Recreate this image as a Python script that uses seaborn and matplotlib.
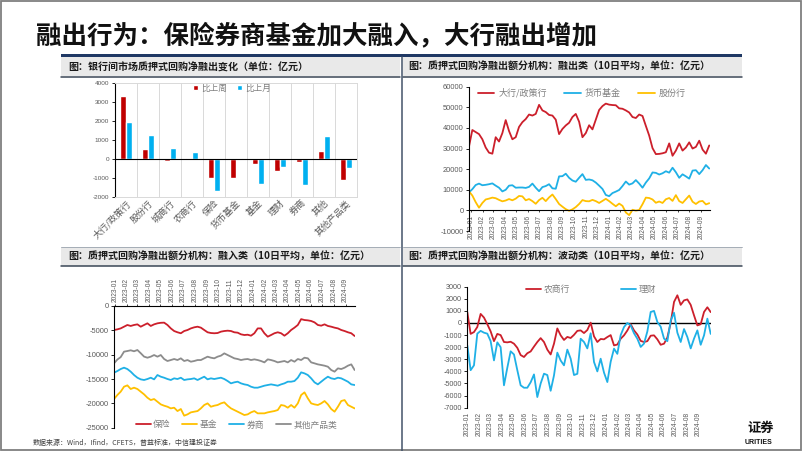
import numpy as np
import pandas as pd
import matplotlib
matplotlib.use("Agg")
import matplotlib.pyplot as plt
from matplotlib.patches import Rectangle
import seaborn as sns

# ---------------- data ----------------
title = "融出行为：保险券商基金加大融入，大行融出增加"
header1 = "图：银行间市场质押式回购净融出变化（单位：亿元）"
header2 = "图：质押式回购净融出额分机构：融出类（10日平均，单位：亿元）"
header3 = "图：质押式回购净融出额分机构：融入类（10日平均，单位：亿元）"
header4 = "图：质押式回购净融出额分机构：波动类（10日平均，单位：亿元）"
source = "数据来源：Wind，Ifind，CFETS，普益标准，中信建投证券"

bar_categories = ["大行/政策行", "股份行", "城商行", "农商行", "保险", "货币基金",
                  "基金", "理财", "券商", "其他", "其他产品类"]
bar_series = ["比上周", "比上月"]
wow = [3350, 550, -130, 30, -1000, -1000, -280, -620, -150, 400, -1130]
mom = [1950, 1250, 600, 380, -1700, 50, -1350, -420, -1380, 1200, -480]

month_labels = ["2023-01", "2023-02", "2023-03", "2023-04", "2023-05", "2023-06", "2023-07",
                "2023-08", "2023-09", "2023-10", "2023-11", "2023-12", "2024-01", "2024-02",
                "2024-03", "2024-04", "2024-05", "2024-06", "2024-07", "2024-08", "2024-09"]

# panel 2: lending side (sampled dates)
p2_dates = pd.date_range("2022-12-27", "2024-09-23", periods=73)
big_bank = [31000, 39000, 38000, 37000, 34500, 30500, 28000, 27500, 35500, 33400,
            37500, 43800, 38500, 34500, 35500, 40500, 42800, 44300, 46500, 46000,
            46800, 51200, 48500, 47700, 46300, 46000, 44000, 37000, 39500, 41200,
            42500, 45300, 46800, 43000, 35500, 37500, 41300, 39300, 44000, 48700,
            50600, 51800, 51300, 51100, 51000, 49500, 49300, 48500, 47500, 45300,
            44800, 46500, 45800, 41000, 36300, 30200, 27300, 27400, 27700, 28200,
            32500, 26500, 29000, 32500, 29000, 30500, 33000, 30000, 30800, 33800,
            29500, 27500, 31500]
money_fund = [8700, 10300, 12300, 13000, 12200, 12400, 12700, 13100, 12000, 11000,
              9200, 10000, 12000, 12200, 11000, 11100, 11100, 10900, 11400, 13000,
              11000, 9300, 11300, 11800, 12700, 10700, 10500, 16500, 16600, 17800,
              15800, 14500, 13900, 15800, 17600, 14800, 15000, 14600, 13500, 12000,
              10400, 7500, 6900, 8400, 9100, 9900, 11800, 14000, 12500, 13100,
              14700, 13000, 11000, 13500, 15500, 18400, 18200, 17400, 18000, 19000,
              18300, 20700, 18500, 15800, 17500, 16500, 15400, 19300, 19500, 17600,
              19500, 22000, 20300]
joint_stock = [9200, 7200, 4000, 1300, 3600, 5300, 5700, 6200, 5900, 5100,
               4400, 4800, 5500, 4900, 5700, 7000, 6800, 4900, 5500, 4500,
               3200, 5000, 6100, 4500, 6300, 7700, 5500, 3100, 1800, 600,
               -200, 500, 1600, 3100, 5000, 4500, 4400, 5100, 4500, 3600,
               4600, 5600, 4500, 3200, 2000, 3300, 2200, -1000, -2300, 300,
               -100, 200, 3000, 6200, 6000, 5300, 3700, 4300, 3600, 5400,
               6000, 4600, 7400, 4500, 3600, 5400, 7200, 4200, 3100, 4300,
               4600, 2900, 3500]

# panel 3: borrowing side
p3_dates = pd.date_range("2022-12-30", "2024-09-25", periods=73)
insurance = [-4930, -4800, -4600, -4250, -3900, -4100, -3900, -3770, -4250, -3900,
             -3560, -4100, -3770, -3560, -3450, -3420, -3900, -4600, -5140, -5400,
             -5600, -5140, -4930, -4600, -4380, -4250, -4450, -4930, -5400, -5550,
             -5600, -5550, -5270, -5140, -5070, -5140, -5400, -5480, -5820, -5960,
             -5900, -6100, -5600, -4600, -4600, -5600, -6300, -5960, -5600, -5400,
             -5600, -6100, -5600, -4930, -4450, -3900, -2700, -2880, -2950, -3080,
             -3360, -3900, -4040, -3770, -4100, -4250, -4450, -4600, -4930, -5140,
             -5400, -5600, -6160]
funds = [-19110, -18290, -17600, -16580, -16300, -17050, -16780, -17050, -17600, -18150,
         -18840, -19320, -19110, -19660, -20210, -20480, -20690, -21030, -20890, -21580,
         -21160, -22530, -22260, -21850, -21710, -21580, -21030, -20340, -20000, -20690,
         -20480, -20340, -20000, -19790, -20480, -21030, -21370, -21710, -22050, -22400,
         -22260, -21850, -21580, -22050, -22050, -22050, -21850, -21710, -21580, -21370,
         -20340, -20480, -20890, -20340, -20890, -20000, -18290, -17740, -18970, -20000,
         -20210, -20340, -20000, -19520, -20210, -21160, -21710, -20690, -19520, -19320,
         -20340, -20690, -21030]
brokers = [-13700, -13360, -12950, -12670, -12950, -13490, -14180, -14730, -15070, -15200,
           -15000, -14730, -15070, -14180, -14520, -14730, -15000, -15200, -14860, -15000,
           -14730, -15200, -15070, -15000, -14860, -15200, -14860, -14520, -15070, -14860,
           -15000, -14860, -14730, -15000, -15410, -15890, -15680, -15550, -15890, -16100,
           -16230, -16580, -16780, -16780, -16580, -16370, -16230, -16100, -16230, -16370,
           -16100, -15890, -15550, -15550, -15410, -14730, -13630, -13840, -14180, -14860,
           -15680, -16100, -15550, -15000, -14520, -14860, -15000, -14730, -14860, -15200,
           -15550, -16100, -16230]
other_products = [-11780, -11000, -10500, -9380, -9250, -9100, -9300, -9040, -9700, -10400,
                  -10620, -10410, -10070, -10410, -10070, -10890, -11300, -11100, -10890, -11100,
                  -10750, -11300, -11100, -11440, -11300, -11100, -11100, -10750, -10410, -10620,
                  -10750, -10410, -10200, -9730, -10070, -10410, -10750, -10890, -11100, -10960,
                  -10890, -11100, -10960, -11100, -11300, -11580, -10960, -11100, -11300, -11580,
                  -11440, -11300, -11580, -11100, -11440, -10890, -11100, -10620, -10750, -11580,
                  -11780, -11990, -12120, -12260, -12470, -13150, -13490, -12810, -12950, -12670,
                  -12260, -11990, -13150]

# panel 4: swing side
p4_dates = pd.date_range("2022-12-31", "2024-10-03", periods=74)
rural_bank = [900, -900, -750, -330, 750, 450, -100, -690, -1500, -900,
              -1000, -1570, -1600, -1550, -1710, -2050, -2650, -2810, -2500, -2350,
              -1950, -1570, -1250, -1570, -2200, -2600, -1710, -450, -1020, -1400,
              -1150, -1240, -980, -650, -610, -830, -580, 30, -1100, -1570,
              -1320, -1350, -1160, -1000, -1850, -1780, -1300, -1020, -620, -100,
              -610, -950, -1480, -1570, -1500, -1050, -1020, -1350, -1800, -1710,
              -1200, 0, 1740, 2290, 1500, 1870, 1950, 1500, 630, -200,
              -100, 910, 1300, 900]
wealth_mgmt = [-1850, -3900, -3500, -880, -650, -800, -880, -1500, -3090, -1600,
               -2000, -5150, -3700, -2340, -2600, -3900, -5150, -5350, -5350, -4900,
               -4250, -6120, -5000, -4190, -4300, -5600, -4330, -2450, -3100, -3500,
               -2200, -2950, -4300, -4200, -1300, -1570, -2100, -850, -3220, -4000,
               -2950, -4100, -4880, -3200, -2120, -2550, -1000, -330, 0, -190,
               -850, -1300, -1980, -1700, -700, 910, 1000, 80, -300, -1290,
               -1500, 200, 850, -800, -1570, -500, -1160, -2100, -1290, -610,
               -1800, -1020, 360, -900]

# ---------------- style ----------------
sns.set_style("white")
plt.rcParams["font.family"] = ["Liberation Sans", "Noto Sans CJK SC", "DejaVu Sans"]
plt.rcParams["axes.unicode_minus"] = False
CJK = ["Noto Sans CJK SC", "DejaVu Sans"]

RED = "#C00000"
LRED = "#CC1F2B"
BLUE = "#00B0F0"
LBLUE = "#1FB0E6"
YEL = "#FFC000"
GRAY = "#8C8C8C"
TICK = "#595959"
NAVY = "#1F3864"

W, H = 802, 451
fig = plt.figure(figsize=(W / 100, H / 100), dpi=100)


def box(x0, y0, x1, y1):
    return [x0 / W, 1 - y1 / H, (x1 - x0) / W, (y1 - y0) / H]


def fpos(x, y):
    return (x / W, 1 - y / H)


# background canvas for slide decorations (pixel coordinates)
bg = fig.add_axes([0, 0, 1, 1], zorder=0)
bg.set_xlim(0, W)
bg.set_ylim(H, 0)
bg.axis("off")
bg.add_patch(Rectangle((0.8, 0.8), W - 1.6, H - 1.6, fill=False, ec="#7F7F7F", lw=1.3))
bg.text(36, 36, title, family=CJK, fontsize=18.4, weight="bold", va="center", ha="left", color="#111111")
bg.add_patch(Rectangle((61, 53.5), 681, 3.2, color=NAVY, lw=0))
for (x0, x1, y0, y1, txt, tx) in [(61, 400, 56.7, 76.5, header1, 68),
                                  (403, 742, 56.7, 76.5, header2, 408),
                                  (61, 400, 247, 265.5, header3, 68),
                                  (403, 742, 247, 265.5, header4, 408)]:
    bg.add_patch(Rectangle((x0, y0), x1 - x0, y1 - y0, color="#E9E9E9", lw=0))
    bg.plot([x0, x1], [y1, y1], color="#3A4656", lw=1.1)
    if y0 > 200:
        bg.plot([x0, x1], [y0, y0], color="#9AA3AE", lw=0.6)
    bg.text(tx, (y0 + y1) / 2 + 0.5, txt, family=CJK, fontsize=7.2, weight="bold",
            va="center", ha="left", color="#1A1A1A")
bg.plot([401.7, 401.7], [56.7, H], color="#44546A", lw=1.1)
bg.text(33, 443, source, family=CJK, fontsize=5, va="center", ha="left", color="#404040")
bg.text(747, 428, "证券", family=CJK, fontsize=9.5, weight="bold", va="center", ha="left", color="#111111")
bg.text(745, 442.5, "URITIES", fontsize=5, weight="bold", va="center", ha="left", color="#111111")


def style_ticks(ax, ysize=5.2):
    ax.tick_params(axis="y", labelsize=ysize, labelcolor=TICK, length=2, width=0.6,
                   color="black", direction="out", pad=2, left=True)
    ax.set_xlabel("")
    ax.set_ylabel("")


month_pos = pd.to_datetime(month_labels)

# ---------------- panel 1: bars ----------------
ax1 = fig.add_axes(box(115, 83.3, 357, 196.7), zorder=2)
df1 = pd.DataFrame({"cat": bar_categories * 2,
                    "series": [bar_series[0]] * len(wow) + [bar_series[1]] * len(mom),
                    "val": wow + mom})
sns.barplot(data=df1, x="cat", y="val", hue="series", hue_order=bar_series,
            palette={bar_series[0]: RED, bar_series[1]: BLUE}, width=0.55, gap=0.08,
            ax=ax1, legend=True, saturation=1)
ax1.set_xlim(-0.5, len(bar_categories) - 0.5)
ax1.set_ylim(-2000, 4000)
ax1.set_yticks(np.arange(-2000, 4001, 1000))
ax1.set_xticks(np.arange(-0.5, len(bar_categories), 1), minor=True)
ax1.grid(which="minor", axis="x", color="#D9D9D9", lw=0.7)
ax1.grid(which="major", axis="both", visible=False)
ax1.set_axisbelow(True)
for s in ["top", "right", "bottom"]:
    ax1.spines[s].set_color("#D9D9D9")
    ax1.spines[s].set_linewidth(0.7)
ax1.spines["left"].set_color("black")
ax1.spines["left"].set_linewidth(0.8)
ax1.axhline(0, color="black", lw=0.8, zorder=3)
style_ticks(ax1, 4.6)
ax1.tick_params(axis="x", which="both", length=0, pad=1.5)
ax1.set_xticks(range(len(bar_categories)))
ax1.set_xticklabels(bar_categories, rotation=45, ha="right", va="top", rotation_mode="anchor",
                    fontsize=6.6, color=TICK, family=CJK)
h, l = ax1.get_legend_handles_labels()
ax1.legend(h, l, loc="center", bbox_to_anchor=fpos(232, 88), bbox_transform=fig.transFigure,
           ncol=2, frameon=False, handlelength=0.6, handleheight=0.6,
           handletextpad=0.3, columnspacing=1.2, labelcolor="#7F7F7F",
           prop={"family": CJK, "size": 6.2})

# ---------------- panel 2 ----------------
ax2 = fig.add_axes(box(469, 86.7, 710, 231), zorder=2)
names2 = ["大行/政策行", "货币基金", "股份行"]
df2 = pd.DataFrame({"date": list(p2_dates) * 3,
                    "val": big_bank + money_fund + joint_stock,
                    "series": [names2[0]] * len(big_bank) + [names2[1]] * len(money_fund)
                    + [names2[2]] * len(joint_stock)})
sns.lineplot(data=df2, x="date", y="val", hue="series", hue_order=names2,
             palette={names2[0]: LRED, names2[1]: LBLUE, names2[2]: YEL}, lw=1.3, ax=ax2)
ax2.set_xlim(pd.Timestamp("2022-12-27"), pd.Timestamp("2024-09-25"))
ax2.set_ylim(-10000, 60000)
ax2.set_yticks(np.arange(-10000, 60001, 10000))
for s in ["top", "right"]:
    ax2.spines[s].set_visible(False)
ax2.spines["bottom"].set_position(("data", 0))
for s in ["left", "bottom"]:
    ax2.spines[s].set_color("black")
    ax2.spines[s].set_linewidth(0.8)
style_ticks(ax2, 5.4)
ax2.set_xticks(month_pos)
ax2.set_xticklabels(month_labels, rotation=90, fontsize=4.8, color=TICK)
ax2.tick_params(axis="x", length=1.5, width=0.6, pad=1.5, bottom=True)
h, l = ax2.get_legend_handles_labels()
ax2.legend(h, l, loc="center", bbox_to_anchor=fpos(582, 93), bbox_transform=fig.transFigure,
           ncol=3, frameon=False, handlelength=1.8, handletextpad=0.5, columnspacing=1.9,
           labelcolor="#7F7F7F", prop={"family": CJK, "size": 6.5})

# ---------------- panel 3 ----------------
ax3 = fig.add_axes(box(114, 306, 355, 427.7), zorder=2)
names3 = ["保险", "基金", "券商", "其他产品类"]
vals3 = [insurance, funds, brokers, other_products]
df3 = pd.DataFrame({"date": list(p3_dates) * 4,
                    "val": sum(vals3, []),
                    "series": sum([[n] * len(v) for n, v in zip(names3, vals3)], [])})
sns.lineplot(data=df3, x="date", y="val", hue="series", hue_order=names3,
             palette={names3[0]: LRED, names3[1]: YEL, names3[2]: LBLUE, names3[3]: GRAY},
             lw=1.3, ax=ax3)
ax3.set_xlim(pd.Timestamp("2022-12-30"), pd.Timestamp("2024-09-26"))
ax3.set_ylim(-25000, 0)
ax3.set_yticks(np.arange(-25000, 1, 5000))
for s in ["bottom", "right"]:
    ax3.spines[s].set_visible(False)
for s in ["left", "top"]:
    ax3.spines[s].set_color("black")
    ax3.spines[s].set_linewidth(0.8)
style_ticks(ax3, 5.4)
ax3.xaxis.tick_top()
ax3.set_xticks(month_pos)
ax3.set_xticklabels(month_labels, rotation=90, fontsize=4.8, color=TICK)
ax3.tick_params(axis="x", length=1.5, width=0.6, pad=1.5, top=True, bottom=False)
h, l = ax3.get_legend_handles_labels()
ax3.legend(h, l, loc="center", bbox_to_anchor=fpos(236.5, 425), bbox_transform=fig.transFigure,
           ncol=4, frameon=False, handlelength=1.7, handletextpad=0.3, columnspacing=1.35,
           labelcolor="#7F7F7F", prop={"family": CJK, "size": 6.3})

# ---------------- panel 4 ----------------
ax4 = fig.add_axes(box(467.3, 286.7, 710.7, 407.7), zorder=2)
names4 = ["农商行", "理财"]
df4 = pd.DataFrame({"date": list(p4_dates) * 2,
                    "val": rural_bank + wealth_mgmt,
                    "series": [names4[0]] * len(rural_bank) + [names4[1]] * len(wealth_mgmt)})
sns.lineplot(data=df4, x="date", y="val", hue="series", hue_order=names4,
             palette={names4[0]: LRED, names4[1]: LBLUE}, lw=1.3, ax=ax4)
ax4.set_xlim(pd.Timestamp("2022-12-31"), pd.Timestamp("2024-10-03"))
ax4.set_ylim(-7000, 3000)
ax4.set_yticks(np.arange(-7000, 3001, 1000))
for s in ["bottom", "right", "top"]:
    ax4.spines[s].set_visible(False)
ax4.spines["left"].set_color("black")
ax4.spines["left"].set_linewidth(0.8)
ax4.axhline(0, color="black", lw=1.0, zorder=1)
style_ticks(ax4, 5.2)
ax4.set_xticks(month_pos)
ax4.set_xticklabels(month_labels, rotation=90, fontsize=4.8, color=TICK)
ax4.tick_params(axis="x", length=0, pad=3.2)
h, l = ax4.get_legend_handles_labels()
ax4.legend(h, l, loc="center", bbox_to_anchor=fpos(591, 289.3), bbox_transform=fig.transFigure,
           ncol=2, frameon=False, handlelength=1.7, handletextpad=0.3, columnspacing=5.8,
           labelcolor="#7F7F7F", prop={"family": CJK, "size": 6.3})

fig.savefig("out.png", dpi=100)
